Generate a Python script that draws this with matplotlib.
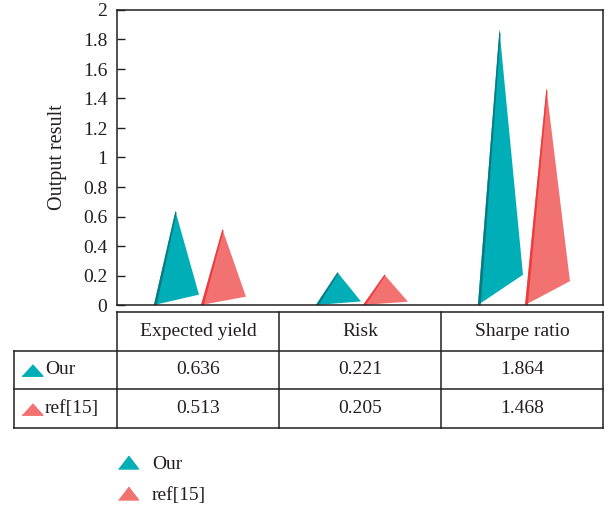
import matplotlib
matplotlib.use('Agg')
import matplotlib.pyplot as plt
from matplotlib.lines import Line2D
import numpy as np

plt.rcParams['font.family'] = ['Liberation Serif', 'DejaVu Serif']
plt.rcParams['font.size'] = 14

categories = ['Expected yield', 'Risk', 'Sharpe ratio']
series = ['Our', 'ref[15]']
our = [0.636, 0.221, 1.864]
ref15 = [0.513, 0.205, 1.468]
yticks = [0, 0.2, 0.4, 0.6, 0.8, 1, 1.2, 1.4, 1.6, 1.8, 2]
ytick_labels = ['0', '0.2', '0.4', '0.6', '0.8', '1', '1.2', '1.4', '1.6', '1.8', '2']

face = ['#00aeb7', '#f27272']
edge = ['#0b7a80', '#ee3b3b']
txt = '#231f20'
# left base, apex, right corner offsets for each series (x units)
shape = [(-0.272, -0.139, 0.006), (0.019, 0.151, 0.296)]
depth = 0.11   # right corner rises with the height (pseudo 3D)
strip = 0.017

W, H = 609, 511
fig = plt.figure(figsize=(W / 100, H / 100), dpi=100)
ax = fig.add_axes([117 / W, 1 - 305 / H, 486 / W, 295 / H])

x = np.arange(len(categories))
for s, vals in enumerate([our, ref15]):
    xl, xa, xr = shape[s]
    for xi, v in zip(x, vals):
        ax.fill([xi + xl, xi + xa, xi + xr], [0, v, depth * v],
                color=face[s], lw=0)
        ax.fill([xi + xl, xi + xa, xi + xa + strip * 0.4, xi + xl + strip],
                [0, v, v * 0.985, 0], color=edge[s], lw=0)

ax.set_xlim(-0.5, 2.5)
ax.set_ylim(0, 2)
ax.set_xticks([])
ax.set_yticks(yticks)
ax.set_yticklabels(ytick_labels)
ax.tick_params(axis='y', direction='in', length=6, width=1, pad=7, labelsize=14,
               colors=txt)
ax.set_ylabel('Output result', fontsize=14.5, labelpad=11, color=txt)
for sp in ax.spines.values():
    sp.set_linewidth(1.1)
    sp.set_color(txt)

# data table under the axes
lab_left = -0.5 - 103 / 162
tax = fig.add_axes([14 / W, 1 - 428 / H, 589 / W, 116 / H])
tax.set_xlim(lab_left, 2.5)
tax.set_ylim(3, 0)
tax.axis('off')
lk = dict(color=txt, lw=1.1, clip_on=False)
tax.plot([-0.5, 2.5], [0, 0], **lk)
for yy in [1, 2, 3]:
    tax.plot([lab_left, 2.5], [yy, yy], **lk)
for xx in [-0.5, 0.5, 1.5, 2.5]:
    tax.plot([xx, xx], [0, 3], **lk)
tax.plot([lab_left, lab_left], [1, 3], **lk)

for xi, c in zip(x, categories):
    tax.text(xi, 0.5, c, ha='center', va='center', fontsize=14, color=txt)
tri_tab = [(-1, -0.55), (1, -0.55), (0, 0.55)]
for r, (name, vals) in enumerate(zip(series, [our, ref15])):
    tax.plot([lab_left + 18 / 162], [r + 1.5], marker=tri_tab, ms=15, color=face[r],
             ls='none', clip_on=False)
    tax.text(lab_left + 31 / 162, r + 1.5, name, ha='left', va='center', fontsize=14,
             color=txt)
    for xi, v in zip(x, vals):
        tax.text(xi, r + 1.5, f'{v:.3f}', ha='center', va='center', fontsize=14, color=txt)

tri_leg = [(-1, -0.65), (1, -0.65), (0, 0.65)]
handles = [Line2D([], [], marker=tri_leg, ms=14.4, ls='none', color=face[i]) for i in range(2)]
leg = fig.legend(handles, series, loc='upper left', bbox_to_anchor=(118 / W, 1 - 455 / H),
                 frameon=False, borderpad=0, borderaxespad=0, handlelength=1.0,
                 handletextpad=0.74, labelspacing=0.72, fontsize=14)
for t in leg.get_texts():
    t.set_color(txt)

fig.savefig('out.png', dpi=100)
